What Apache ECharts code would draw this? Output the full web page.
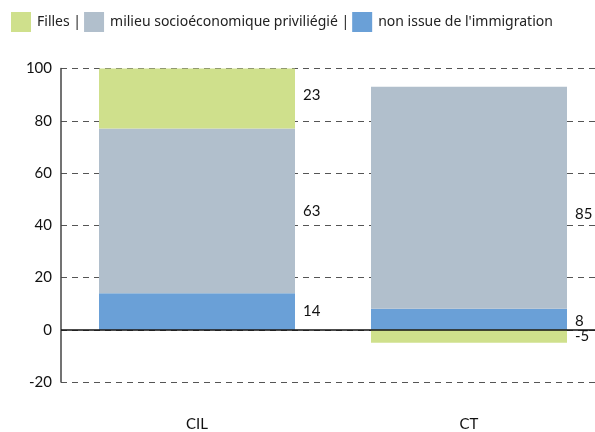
<!DOCTYPE html>
<html>
<head>
<meta charset="utf-8">
<script src="https://cdn.jsdelivr.net/npm/echarts@6/dist/echarts.min.js"></script>
<style>
  html, body { margin: 0; padding: 0; background: #fff; overflow: hidden; }
  /* the plot area runs a little past the right edge of the window */
  #chart { width: 605px; height: 432px; }
</style>
</head>
<body>
<div id="chart"></div>
<script>
// Categories and stacked segment values (percent)
const categories = ['CIL', 'CT'];
const nonIssueImmigration = [14, 8];
const milieuPrivilegie = [63, 85];
const filles = [23, -5];

const seriesNames = ['Filles |', 'milieu socioéconomique priviliégié |', "non issue de l'immigration"];
const colors = { filles: '#cfe08c', milieu: '#b1bfcc', nonIssue: '#6aa0d7' };

const FONT = 'Lato';
const LEGEND_FONT = 'Noto Sans';

const chart = echarts.init(document.getElementById('chart'), null, { renderer: 'canvas' });

const label = {
  show: true,
  position: 'right',
  distance: 8,
  color: '#111',
  fontFamily: FONT,
  fontSize: 15
};

chart.setOption({
  animation: false,
  backgroundColor: '#fff',
  textStyle: { fontFamily: FONT },
  legend: {
    data: seriesNames,
    left: 6,
    top: 7,
    itemWidth: 20,
    itemHeight: 20,
    itemGap: 3,
    icon: 'rect',
    textStyle: { fontFamily: LEGEND_FONT, fontSize: 14, color: '#222', padding: [0, 0, 0, 1] }
  },
  grid: { left: 61, right: 0, top: 68.5, bottom: 48.5, containLabel: false },
  xAxis: {
    type: 'category',
    data: categories,
    axisLine: { show: false },
    axisTick: { show: false },
    axisLabel: { color: '#111', fontFamily: FONT, fontSize: 15, margin: 35 }
  },
  yAxis: {
    type: 'value',
    min: -20,
    max: 100,
    interval: 20,
    axisLine: { show: true, lineStyle: { color: '#444', width: 1.5 } },
    axisTick: { show: false },
    axisLabel: { color: '#111', fontFamily: FONT, fontSize: 15, margin: 9 },
    splitLine: { show: true, lineStyle: { color: '#555', type: [6, 5], width: 1 } }
  },
  series: [
    {
      name: seriesNames[2],
      type: 'bar',
      stack: 'total',
      barWidth: 196,
      itemStyle: { color: colors.nonIssue },
      label: label,
      data: nonIssueImmigration.map((v, i) => i === 1 ? { value: v, label: { offset: [0, 2] } } : v),
      markLine: {
        silent: true,
        symbol: 'none',
        label: { show: false },
        lineStyle: { color: '#111', type: 'solid', width: 1.5 },
        data: [{ yAxis: 0 }]
      }
    },
    {
      name: seriesNames[1],
      type: 'bar',
      stack: 'total',
      itemStyle: { color: colors.milieu },
      label: label,
      data: milieuPrivilegie.map((v, i) => i === 1 ? { value: v, label: { offset: [0, 16] } } : v)
    },
    {
      name: seriesNames[0],
      type: 'bar',
      stack: 'total',
      itemStyle: { color: colors.filles },
      label: label,
      data: filles.map((v, i) => i === 0 ? { value: v, label: { offset: [0, -3] } } : v)
    }
  ]
});
</script>
</body>
</html>
